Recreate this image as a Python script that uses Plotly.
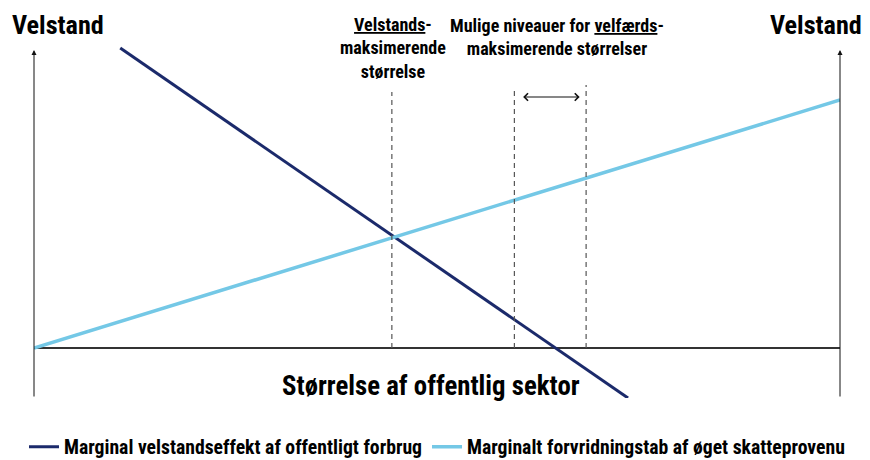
import plotly.graph_objects as go

# --- data (conceptual lines, x: size of public sector, y: welfare) ---
benefit_x = [10.7, 73.7]        # Marginal velstandseffekt af offentligt forbrug
benefit_y = [300, -50]
cost_x = [0, 100]               # Marginalt forvridningstab af øget skatteprovenu
cost_y = [0, 248]
opt_x = 44.4                    # velstandsmaksimerende størrelse
range_x = [59.6, 68.5]          # mulige niveauer for velfærdsmaksimerende størrelser

names = ["Marginal velstandseffekt af offentligt forbrug",
         "Marginalt forvridningstab af øget skatteprovenu"]
colors = ["#1B2A6B", "#74C8E6"]

FONT = "Roboto Condensed, Liberation Sans Narrow, Arial Narrow, sans-serif"

# page geometry (the page body adds an 8px offset)
OFF = 8
W, H = 870 - OFF, 460 - OFF
L, R, T, B = 34 - OFF, 30, 46 - OFF, 62
pw, ph = W - L - R, H - T - B


def px(xr):
    return (xr - OFF - L) / pw


def py(yr):
    return 1 - (yr - OFF - T) / ph


fig = go.Figure()
fig.add_trace(go.Scatter(x=benefit_x, y=benefit_y, mode="lines", name="<b>" + names[0] + "</b>",
                         line=dict(color=colors[0], width=3)))
fig.add_trace(go.Scatter(x=cost_x, y=cost_y, mode="lines", name="<b>" + names[1] + "</b>",
                         line=dict(color=colors[1], width=3.5)))

# horizontal axis line
fig.add_shape(type="line", x0=0, x1=100, y0=0, y1=0, line=dict(color="#333", width=2), layer="below")
# vertical axes with arrow heads
for xv in [0, 100]:
    fig.add_annotation(x=xv, y=298, ax=xv, ay=-50, xref="x", yref="y", axref="x", ayref="y",
                       text="", showarrow=True, arrowhead=2, arrowsize=1, arrowwidth=1, arrowcolor="#111")

# dashed vertical lines
for xv, top in [(opt_x, 256), (range_x[0], 260), (range_x[1], 263)]:
    fig.add_shape(type="line", x0=xv, x1=xv, y0=0, y1=top,
                  line=dict(color="#555", width=1.2, dash="5px,4px"))

# double arrow between the range lines
fig.add_annotation(x=range_x[1] - 0.8, y=251, ax=range_x[0] + 0.9, ay=251, xref="x", yref="y",
                   axref="x", ayref="y", text="", showarrow=True, arrowhead=4, startarrowhead=4,
                   arrowside="end+start", arrowsize=1.2, startarrowsize=1.2, arrowwidth=1.2,
                   arrowcolor="#111")

# texts
texts = [
    (58, 25, "<b>Velstand</b>", 26.2),
    (816, 25, "<b>Velstand</b>", 26.2),
    (393, 48, "<b><u>Velstands</u>-<br>maksimerende<br>størrelse</b>", 18),
    (557, 37, "<b>Mulige niveauer for <u>velfærds</u>-<br>maksimerende størrelser</b>", 18),
    (431, 386, "<b>Størrelse af offentlig sektor</b>", 26.8),
]
for xr, yr, t, s in texts:
    fig.add_annotation(x=px(xr), y=py(yr), xref="paper", yref="paper", text=t, showarrow=False,
                       font=dict(family=FONT, size=s, color="#000"), xanchor="center",
                       yanchor="middle", align="center", borderpad=0)

fig.update_layout(
    width=W, height=H,
    margin=dict(l=L, r=R, t=T, b=B, autoexpand=False),
    plot_bgcolor="white", paper_bgcolor="white",
    xaxis=dict(range=[0, 100], visible=False, fixedrange=True),
    yaxis=dict(range=[-50, 302], visible=False, fixedrange=True),
    showlegend=True,
    legend=dict(orientation="h", x=px(24), xanchor="left", y=py(447), yanchor="middle",
                font=dict(family=FONT, size=19.7, color="#000"), itemwidth=30, tracegroupgap=0,
                bgcolor="rgba(0,0,0,0)"),
)
fig.write_html("out.html")
